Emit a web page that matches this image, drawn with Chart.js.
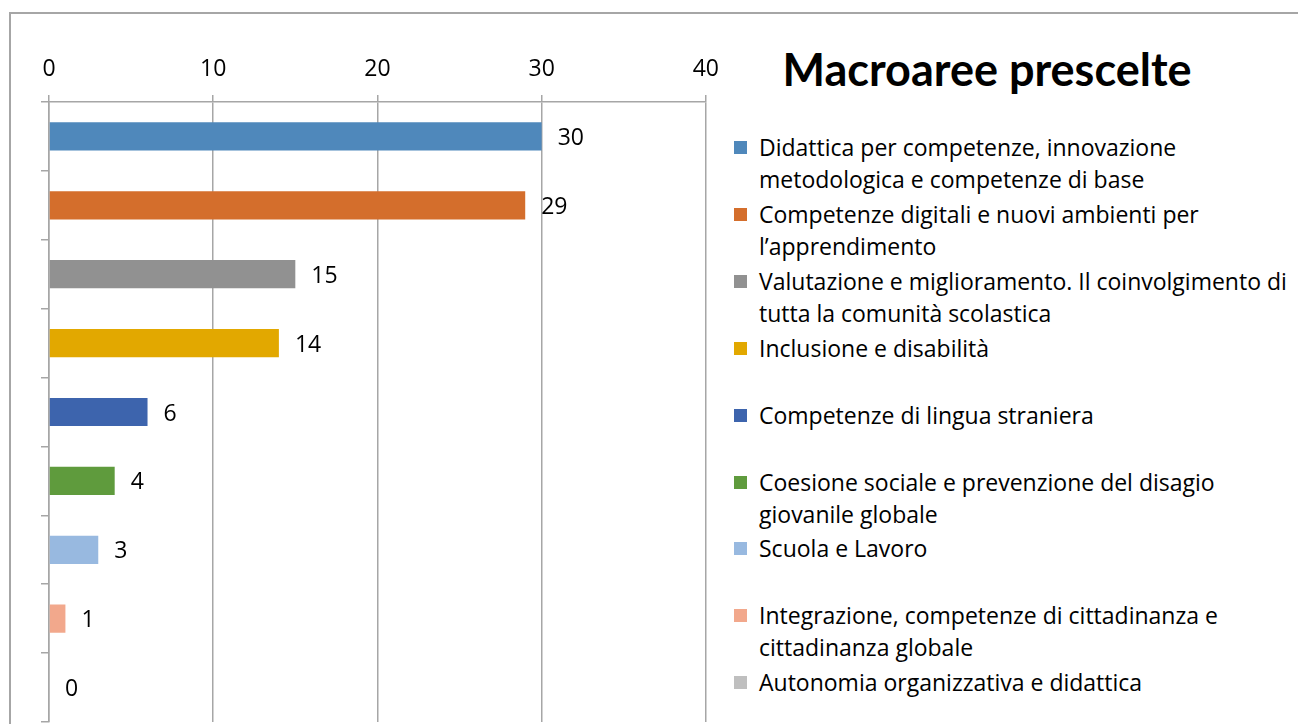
<!DOCTYPE html>
<html>
<head>
<meta charset="utf-8">
<script src="https://cdn.jsdelivr.net/npm/chart.js@4.4.0/dist/chart.umd.min.js"></script>
<style>
  body { margin: 0; background: #fff; font-family: "Open Sans", sans-serif; }
  #wrap { position: relative; width: 1298px; height: 724px; overflow: hidden; }
  #frame { position: absolute; left: 9px; top: 12px; width: 1400px; height: 800px;
           border-left: 2px solid #a6a6a6; border-top: 2px solid #a6a6a6; }
  #box { position: absolute; left: 0; top: 0; width: 731px; height: 724px; }
  #title { position: absolute; left: 740px; width: 494px; top: 42px; text-align: center;
           font-family: Lato, sans-serif; font-weight: bold; font-size: 45px; color: #000; }
  .item { position: absolute; left: 734px; width: 564px; font-size: 23px; line-height: 32px; color: #000; }
  .item .sw { position: absolute; left: 0; top: 10px; width: 13px; height: 13px; }
  .item .tx { margin-left: 25px; white-space: nowrap; }
</style>
</head>
<body>
<div id="wrap">
  <div id="frame"></div>
  <div id="box"><canvas id="chart"></canvas></div>
  <div id="title">Macroaree prescelte</div>
  <div id="legend"></div>
</div>
<script>
const categories = [
  ['Didattica per competenze, innovazione', 'metodologica e competenze di base'],
  ['Competenze digitali e nuovi ambienti per', 'l\u2019apprendimento'],
  ['Valutazione e miglioramento. Il coinvolgimento di', 'tutta la comunit\u00e0 scolastica'],
  ['Inclusione e disabilit\u00e0'],
  ['Competenze di lingua straniera'],
  ['Coesione sociale e prevenzione del disagio', 'giovanile globale'],
  ['Scuola e Lavoro'],
  ['Integrazione, competenze di cittadinanza e', 'cittadinanza globale'],
  ['Autonomia organizzativa e didattica']
];
const values = [30, 29, 15, 14, 6, 4, 3, 1, 0];
const colors = ['#4f88bb', '#d46e2c', '#919191', '#e2a800', '#3d64ad', '#5f9b3d', '#98b9e0', '#f2a88c', '#bfbfbf'];
const xTicks = [0, 10, 20, 30, 40];

const legendDiv = document.getElementById('legend');
categories.forEach((lines, i) => {
  const d = document.createElement('div');
  d.className = 'item';
  d.style.top = (131 + i * 66.9) + 'px';
  d.innerHTML = `<div class="sw" style="background:${colors[i]}"></div><div class="tx">${lines.join('<br>')}</div>`;
  legendDiv.appendChild(d);
});

// value labels to the right of each bar
const valueLabels = {
  id: 'valueLabels',
  afterDatasetsDraw(chart) {
    const ctx = chart.ctx;
    const meta = chart.getDatasetMeta(0);
    ctx.save();
    ctx.font = '23px "Open Sans", sans-serif';
    ctx.fillStyle = '#000';
    ctx.textBaseline = 'middle';
    ctx.textAlign = 'left';
    meta.data.forEach((bar, i) => {
      ctx.fillText(String(values[i]), bar.x + 16, bar.y + 2);
    });
    ctx.restore();
  }
};

new Chart(document.getElementById('chart').getContext('2d'), {
  type: 'bar',
  data: {
    labels: categories.map(l => l.join(' ')),
    datasets: [{ data: values, backgroundColor: colors, barPercentage: 0.41, categoryPercentage: 1 }]
  },
  options: {
    indexAxis: 'y',
    responsive: true,
    maintainAspectRatio: false,
    animation: false,
    layout: { padding: { left: 41, right: 11, top: 50, bottom: 2 } },
    plugins: { legend: { display: false }, tooltip: { enabled: false } },
    scales: {
      x: {
        position: 'top',
        min: 0, max: 40,
        afterBuildTicks: s => { s.ticks = xTicks.map(v => ({ value: v })); },
        afterFit: s => { s.height = 52; },
        ticks: { color: '#000', font: { size: 23, family: '"Open Sans", sans-serif' }, padding: 12, maxRotation: 0 },
        grid: { color: '#a6a6a6', lineWidth: 1.5, tickLength: 7 },
        border: { color: '#a6a6a6', width: 1.5 }
      },
      y: {
        afterFit: s => { s.width = 8; },
        ticks: { display: false },
        grid: { drawOnChartArea: false, color: '#a6a6a6', lineWidth: 1.5, tickLength: 8 },
        border: { color: '#a6a6a6', width: 1.5 }
      }
    }
  },
  plugins: [valueLabels]
});
</script>
</body>
</html>
